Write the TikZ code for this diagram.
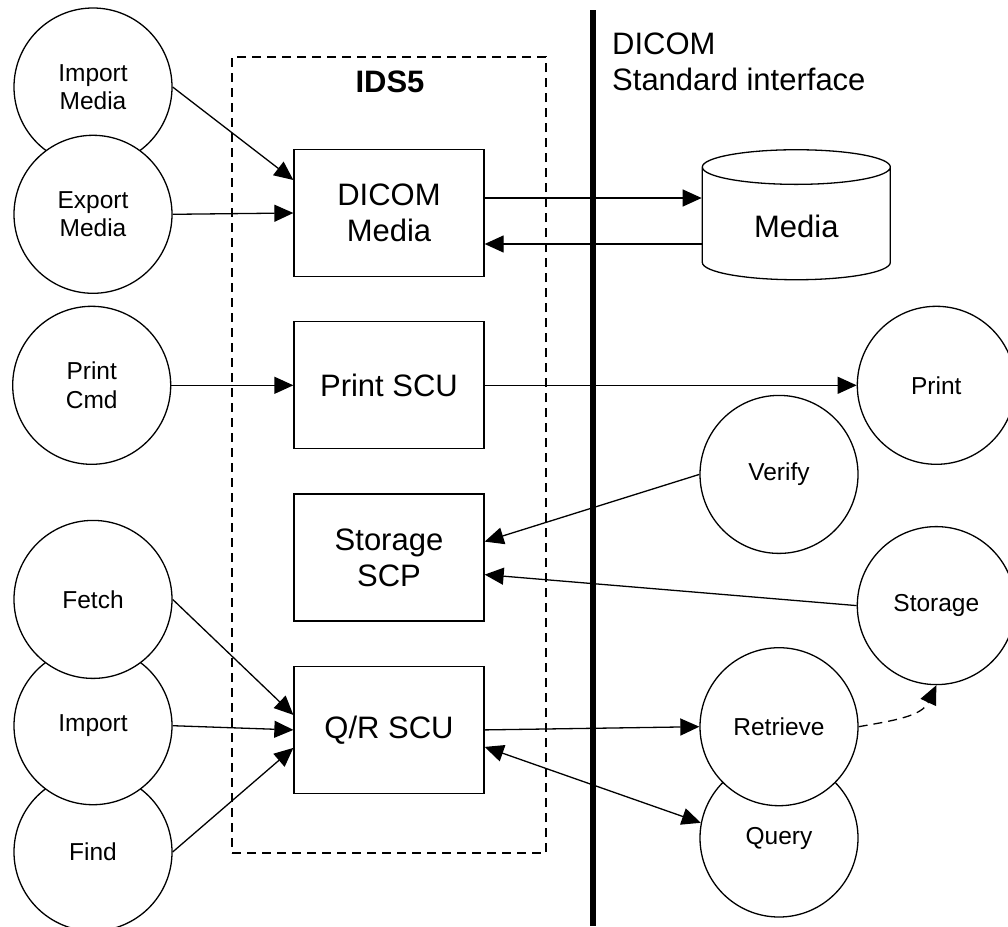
\documentclass[tikz,border=0pt]{standalone}
\usepackage{fontspec}
\setmainfont{Liberation Sans}
\usetikzlibrary{shapes, arrows.meta, positioning}
\tikzstyle{rect} = [draw, rectangle, fill=white, line width=1.3pt, minimum width=190pt, minimum height=127pt, align=center, font=\fontsize{31}{35.5}\selectfont]
\tikzstyle{actor} = [draw, circle, fill=white, line width=1.3pt, minimum size=158pt, inner sep=0pt, align=center, font=\fontsize{24.5}{28.5}\selectfont]
\tikzstyle{store} = [draw, cylinder, shape border rotate=90, shape aspect=0.38, fill=white, line width=1.3pt, minimum width=188pt, minimum height=130pt, font=\fontsize{31}{35.5}\selectfont]
\tikzstyle{line} = [draw, line width=1.3pt, -{Triangle[length=19pt, width=17pt]}]
\tikzstyle{both} = [draw, line width=1.3pt, {Triangle[length=19pt, width=17pt]}-{Triangle[length=19pt, width=17pt]}]
\tikzstyle{maybe} = [line, dash pattern=on 9pt off 6pt]

\begin{document}
\begin{tikzpicture}[x=1pt, y=-1pt]
	\useasboundingbox (0,0) rectangle (1008,926);
	% system boundary and interface
	\node [draw, line width=1.3pt, dash pattern=on 9pt off 6pt, minimum width=314pt, minimum height=796pt] (ids) at (389,455) {};
	\node [font=\bfseries\fontsize{31}{35.5}\selectfont] (idslabel) at (390,82) {IDS5};
	\coordinate (ifacetop) at (593,10);
	\coordinate (ifacebot) at (593,926);
	\draw [line width=6pt] (ifacetop) -- (ifacebot);
	\node [anchor=north west, inner sep=0pt, align=left, font=\fontsize{31}{35.5}\selectfont] (iface) at (612,33) {DICOM\\Standard interface};
	
	% application entities
	\node [rect] (dmedia) at (389,213) {DICOM\\Media};
	\node [rect, below=44pt of dmedia] (pscu) {Print SCU};
	\node [rect, below=44pt of pscu] (sscp) {Storage\\SCP};
	\node [rect, below=44pt of sscp] (qr) {Q/R SCU};
	
	% local activities
	\node [actor] (imedia) at (93,87) {Import\\Media};
	\node [actor, below=-32pt of imedia] (emedia) {Export\\Media};
	\node [actor, left=122pt of pscu] (pcmd) {Print\\Cmd};
	\node [actor] (find) at (93,852) {Find};
	\node [actor, above=-33pt of find] (import) {Import};
	\node [actor, above=-33pt of import] (fetch) {Fetch};
	
	% remote activities
	\node [store, right=217pt of dmedia, yshift=-13pt] (media) {Media};
	\node [actor, right=372pt of pscu] (print) {Print};
	\node [actor, below=61pt of print] (storage) {Storage};
	\node [actor] (query) at (779,838) {Query};
	\node [actor, above=-48pt of query] (retrieve) {Retrieve};
	\node [actor, above=93pt of retrieve] (verify) {Verify};
	
	\path [line] (imedia.east) -- ([yshift=33pt]dmedia.west);
	\path [line] (emedia.east) -- (dmedia.west);
	\path [line] ([yshift=15pt]dmedia.east) -- ([yshift=15pt]dmedia.east -| media.west);
	\path [line] ([yshift=-31pt]dmedia.east -| media.west) -- ([yshift=-31pt]dmedia.east);
	\path [line] (pcmd.east) -- (pscu.west);
	\path [line] (pscu.east) -- (print.west);
	\path [line] (verify.west) -- ([yshift=16pt]sscp.east);
	\path [line] (storage.west) -- ([yshift=-17pt]sscp.east);
	\path [line] (fetch.east) -- ([yshift=15pt]qr.west);
	\path [line] (import.east) -- (qr.west);
	\path [line] (find.east) -- ([yshift=-18pt]qr.west);
	\path [line] (qr.east) -- (retrieve.west);
	\path [both] ([yshift=-17pt]qr.east) -- (query.169);
	\path [maybe] (retrieve.east) to [out=10, in=-115] (storage.south);
\end{tikzpicture}
\end{document}
